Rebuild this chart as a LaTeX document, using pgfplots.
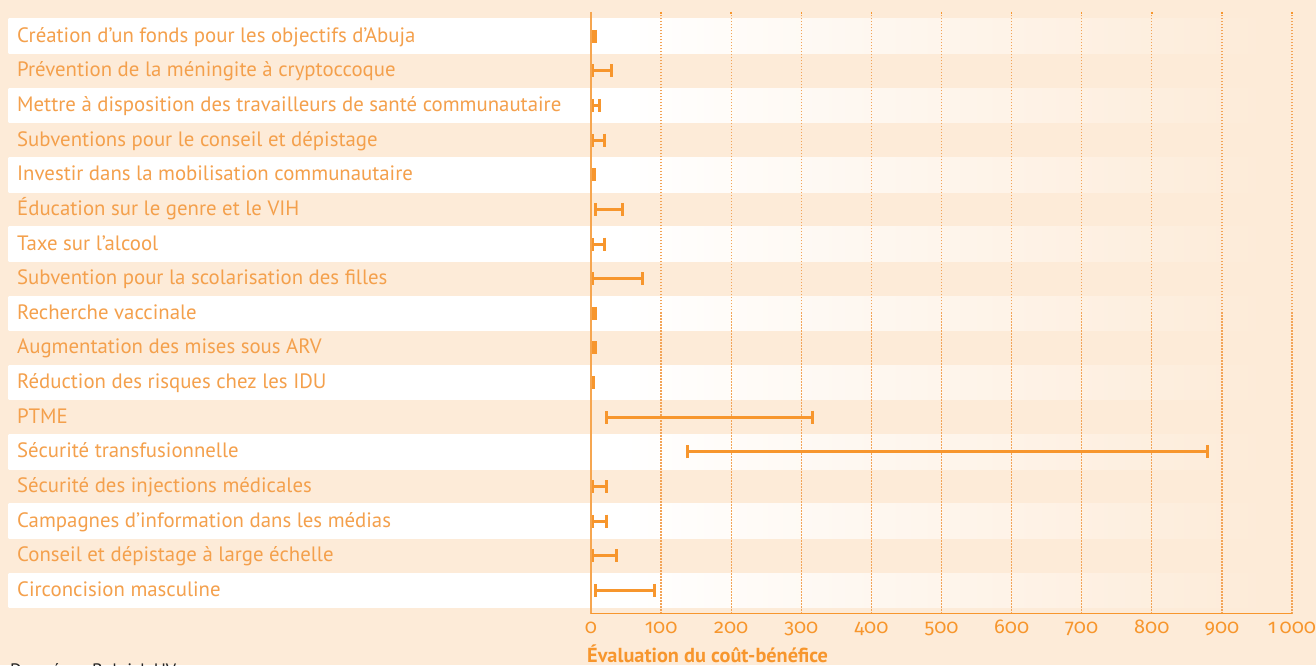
\documentclass[border=0pt]{standalone}
\usepackage{fontspec}
\setmainfont{PT Sans}
\newfontfamily\tickfont{Fira Sans}[Numbers=OldStyle]
\usepackage{pgfplots}
\pgfplotsset{compat=1.18}
\usepackage{pgfplotstable}
\definecolor{bg}{HTML}{FDEBD8}
\definecolor{labelc}{HTML}{F4A04C}
\definecolor{barc}{HTML}{F7962D}
\definecolor{axisc}{HTML}{F6A650}
\definecolor{gridc}{HTML}{F3A457}
\pgfdeclarehorizontalshading{rowshade}{100bp}{color(0bp)=(white); color(25bp)=(white); color(48.5bp)=(white); color(73bp)=(bg); color(100bp)=(bg)}
\pgfplotstableread{
y low high
17 2 7
16 2 29
15 2 12
14 2 19
13 1 5
12 6 45
11 2 19
10 2 73
9 2 7
8 2 6
7 1 3
6 22 316
5 137 880
4 2 22
3 2 22
2 2 36
1 7 90
}\data
\begin{document}
\begin{tikzpicture}[x=1pt,y=1pt]
\useasboundingbox (0,0) rectangle (1316,665);
\fill[bg] (0,0) rectangle (1316,665);
\foreach \k in {0,2,...,16}{
  \pgfmathsetmacro{\ya}{646-\k*34.63}
  \pgfmathsetmacro{\yb}{646-(\k+1)*34.63}
  \shade[shading=rowshade] (8.5,\ya) rectangle (1316,\yb);
}
\node[anchor=base west,inner sep=0pt,text=black!85,font=\fontsize{18}{22}\selectfont] at (10,-11) {Données : Bolnick HV};
\begin{axis}[
  at={(591pt,51.5pt)}, anchor=south west,
  scale only axis, width=701pt, height=601.5pt,
  xmin=0, xmax=1000, ymin=0.333, ymax=17.702,
  axis line style={draw=none},
  xtick={0,100,...,1000},
  xticklabels={0,100,200,300,400,500,600,700,800,900,1\,000},
  xtick pos=upper, xticklabel pos=lower, tick align=inside,
  major tick length=2pt,
  xtick style={draw=barc, line width=1.5pt},
  ytick style={draw=none},
  xmajorgrids, grid style={dash pattern=on 1.5pt off 1.5pt, line width=1.3pt, draw=gridc},
  xticklabel style={font=\tickfont\fontsize{20}{24}\selectfont, text=barc, anchor=base, yshift=-20pt},
  ytick={1,...,17},
  yticklabels={Circoncision masculine,Conseil et dépistage à large échelle,Campagnes d’information dans les médias,Sécurité des injections médicales,Sécurité transfusionnelle,PTME,Réduction des risques chez les IDU,Augmentation des mises sous ARV,Recherche vaccinale,Subvention pour la scolarisation des filles,Taxe sur l’alcool,Éducation sur le genre et le VIH,Investir dans la mobilisation communautaire,Subventions pour le conseil et dépistage,Mettre à disposition des travailleurs de santé communautaire,Prévention de la méningite à cryptoccoque,Création d’un fonds pour les objectifs d’Abuja},
  yticklabel style={font=\fontsize{20.8}{25}\selectfont, text=labelc, anchor=base west, inner sep=0pt, xshift=-574pt, yshift=-6pt},
  xlabel={Évaluation du coût-bénéfice},
  x label style={at={(axis description cs:0,0)}, anchor=base west, inner sep=0pt, yshift=-48.5pt, xshift=-4pt, font=\bfseries\fontsize{20.3}{24}\selectfont, text=barc},
  clip=false,
]
\addplot[draw=none, mark=none,
  error bars/.cd, x dir=both, x explicit, error mark=|,
  error bar style={line width=3pt, draw=barc},
  error mark options={line width=3pt, mark size=6.5pt, draw=barc}]
  table[x expr={(\thisrow{low}+\thisrow{high})/2}, y=y, x error expr={(\thisrow{high}-\thisrow{low})/2}]{\data};
\draw[axisc, line width=1.6pt] (axis cs:0,0.333) -- (axis cs:0,17.702);
\draw[barc, line width=1.5pt] (axis cs:0,0.333) -- (axis cs:1000,0.333);
\end{axis}
\end{tikzpicture}
\end{document}
